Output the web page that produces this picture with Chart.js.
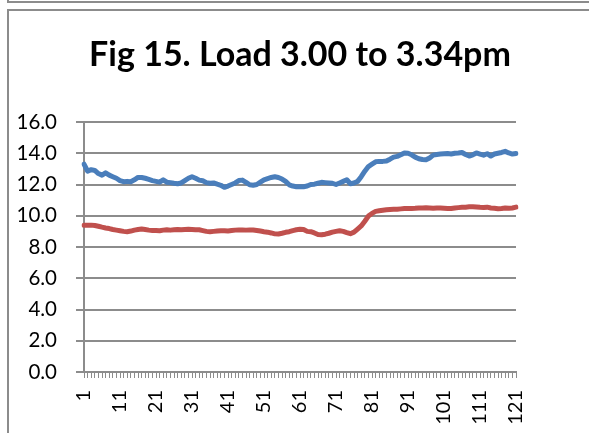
<!DOCTYPE html>
<html>
<head>
<meta charset="utf-8">
<script src="https://cdn.jsdelivr.net/npm/chart.js@4/dist/chart.umd.min.js"></script>
<style>
  html, body { margin: 0; padding: 0; background: #fff; }
  #wrap { position: relative; width: 589px; height: 433px; overflow: hidden; }
  #c { position: absolute; left: 0; top: 0; }
  .ln { position: absolute; background: #8c8c8c; }
</style>
</head>
<body>
<div id="wrap">
  <canvas id="c" width="589" height="433"></canvas>
  <!-- frame edges -->
  <div class="ln" style="left:7px; top:0; width:2px; height:3px;"></div>
  <div class="ln" style="left:7px; top:1px; width:582px; height:2px;"></div>
  <div class="ln" style="left:7px; top:9px; width:2px; height:424px;"></div>
  <div class="ln" style="left:7px; top:9px; width:582px; height:2px;"></div>
</div>
<script>
// Sample numbers 1..121
const categories = Array.from({ length: 121 }, (_, i) => String(i + 1));

// Upper trace (blue)
const seriesUpper = [
  13.30, 12.85, 12.95, 12.90, 12.70, 12.60, 12.75, 12.60, 12.50, 12.40,
  12.25, 12.18, 12.20, 12.18, 12.30, 12.45, 12.45, 12.40, 12.33, 12.25,
  12.20, 12.15, 12.30, 12.15, 12.12, 12.08, 12.05, 12.10, 12.25, 12.40,
  12.50, 12.40, 12.28, 12.24, 12.12, 12.08, 12.10, 12.02, 11.95, 11.82,
  11.90, 12.00, 12.10, 12.25, 12.28, 12.14, 11.98, 11.95, 12.00, 12.15,
  12.30, 12.38, 12.45, 12.50, 12.45, 12.35, 12.20, 11.98, 11.90, 11.86,
  11.85, 11.86, 11.90, 12.00, 12.02, 12.08, 12.14, 12.12, 12.10, 12.08,
  12.00, 12.10, 12.20, 12.30, 12.05, 12.10, 12.20, 12.50, 12.85, 13.15,
  13.30, 13.45, 13.48, 13.48, 13.50, 13.62, 13.75, 13.80, 13.90, 14.02,
  14.00, 13.90, 13.75, 13.65, 13.60, 13.58, 13.70, 13.88, 13.92, 13.95,
  13.97, 13.98, 13.95, 14.00, 14.02, 14.05, 13.92, 13.82, 13.90, 14.02,
  13.95, 13.88, 13.97, 13.82, 13.95, 14.00, 14.05, 14.12, 14.02, 13.95,
  13.98
];

// Lower trace (red)
const seriesLower = [
  9.40, 9.40, 9.40, 9.38, 9.33, 9.27, 9.22, 9.18, 9.12, 9.08,
  9.04, 9.00, 8.98, 9.02, 9.08, 9.12, 9.15, 9.12, 9.08, 9.06,
  9.05, 9.04, 9.08, 9.10, 9.08, 9.10, 9.12, 9.10, 9.12, 9.13,
  9.12, 9.10, 9.10, 9.05, 9.00, 8.98, 9.00, 9.02, 9.04, 9.04,
  9.02, 9.05, 9.08, 9.09, 9.09, 9.08, 9.09, 9.09, 9.06, 9.02,
  8.98, 8.95, 8.90, 8.84, 8.83, 8.88, 8.94, 8.98, 9.05, 9.10,
  9.13, 9.12, 9.00, 8.98, 8.90, 8.80, 8.78, 8.82, 8.88, 8.95,
  9.00, 9.04, 9.00, 8.92, 8.85, 8.95, 9.15, 9.35, 9.65, 9.98,
  10.15, 10.28, 10.32, 10.35, 10.38, 10.40, 10.41, 10.42, 10.44, 10.46,
  10.47, 10.47, 10.48, 10.50, 10.50, 10.51, 10.50, 10.48, 10.50, 10.49,
  10.48, 10.47, 10.47, 10.50, 10.52, 10.54, 10.55, 10.57, 10.58, 10.56,
  10.54, 10.53, 10.55, 10.50, 10.48, 10.45, 10.47, 10.50, 10.48, 10.50,
  10.55
];

// Value axis ticks
const yTicks = [0, 2, 4, 6, 8, 10, 12, 14, 16];
const chartTitle = 'Fig 15. Load 3.00 to 3.34pm';

const FONT = 'Lato, "Open Sans", sans-serif';
const GRID = '#8c8c8c';

const titlePlugin = {
  id: 'figTitle',
  afterDraw(chart) {
    const ctx = chart.ctx;
    ctx.save();
    ctx.font = 'bold 34px ' + FONT;
    ctx.fillStyle = '#000';
    ctx.textAlign = 'center';
    ctx.textBaseline = 'alphabetic';
    ctx.fillText(chartTitle, 300, 66);
    ctx.restore();
  }
};

new Chart(document.getElementById('c'), {
  type: 'line',
  data: {
    labels: categories,
    datasets: [
      {
        data: seriesUpper,
        borderColor: '#4a7ebb',
        borderWidth: 5,
        pointRadius: 0,
        tension: 0,
        borderJoinStyle: 'round',
        borderCapStyle: 'round'
      },
      {
        data: seriesLower,
        borderColor: '#c0504d',
        borderWidth: 5,
        pointRadius: 0,
        tension: 0,
        borderJoinStyle: 'round',
        borderCapStyle: 'round'
      }
    ]
  },
  plugins: [titlePlugin],
  options: {
    responsive: false,
    animation: false,
    devicePixelRatio: 1,
    layout: { padding: { top: 122, left: 12, right: 73, bottom: 0 } },
    plugins: {
      legend: { display: false },
      tooltip: { enabled: false },
      title: { display: false }
    },
    scales: {
      x: {
        offset: false,
        border: { color: GRID, width: 2 },
        grid: { drawOnChartArea: false, drawTicks: true, tickLength: 6, color: GRID, lineWidth: 1 },
        ticks: {
          autoSkip: false,
          minRotation: 90,
          maxRotation: 90,
          padding: 12,
          color: '#000',
          font: { family: FONT, size: 20 },
          callback: (v, i) => (i % 10 === 0 ? categories[i] : '')
        },
        afterFit(scale) { scale.height = 61; }
      },
      y: {
        min: 0,
        max: 16,
        border: { color: GRID, width: 2 },
        grid: { color: GRID, lineWidth: 2, tickLength: 8 },
        afterBuildTicks(scale) { scale.ticks = yTicks.map(v => ({ value: v })); },
        ticks: {
          padding: 19,
          color: '#000',
          font: { family: FONT, size: 20.5 },
          callback: v => Number(v).toFixed(1)
        },
        afterFit(scale) { scale.width = 72; }
      }
    }
  }
});
</script>
</body>
</html>
